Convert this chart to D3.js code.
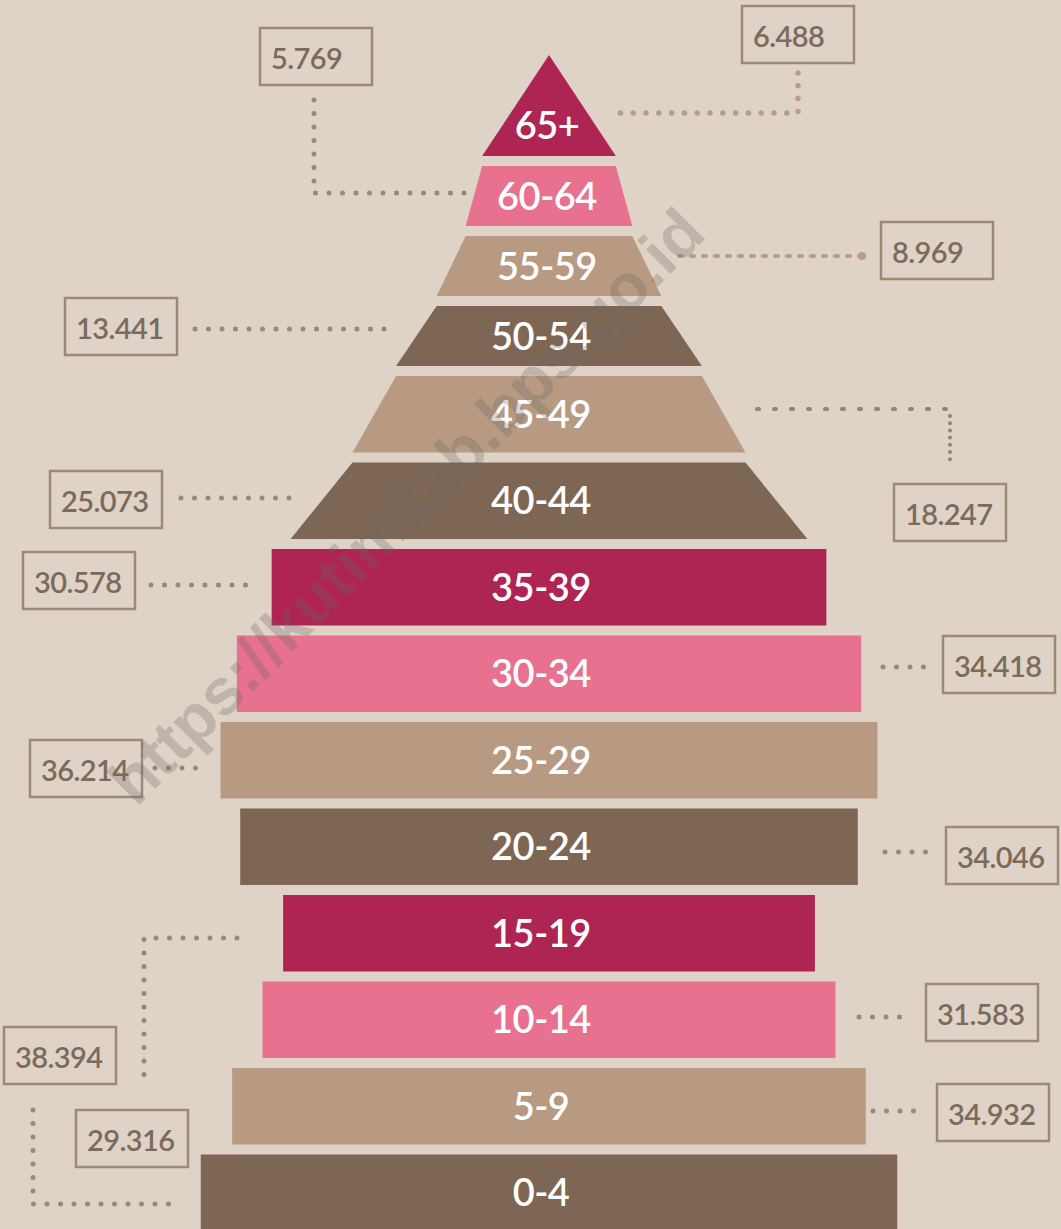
<!DOCTYPE html>
<html>
<head>
<meta charset="utf-8">
<script src="https://cdn.jsdelivr.net/npm/d3@7"></script>
<style>
  html, body { margin: 0; padding: 0; background: #dfd2c7; }
  svg { display: block; }
</style>
</head>
<body>
<script>
// Population pyramid infographic (thousands of people per age group)
const ages = ["0-4", "5-9", "10-14", "15-19", "20-24", "25-29", "30-34",
              "35-39", "40-44", "45-49", "50-54", "55-59", "60-64", "65+"];
const population = [38.394, 34.932, 31.583, 29.316, 34.046, 36.214, 34.418,
                    30.578, 25.073, 18.247, 13.441, 8.969, 5.769, 6.488];
const taperedGroups = ["40-44", "45-49", "50-54", "55-59", "60-64"];
const peakGroup = "65+";

const w = 1061, h = 1229;
const cx = 549;

const svg = d3.select("body")
              .append("svg")
              .attr("width", w)
              .attr("height", h)
              .style("background-color", "#dfd2c7");

const rows = ages.map((a, i) => ({age: a, value: population[i]})).reverse(); // top to bottom

// vertical layout: apex triangle, three short rows, then full rows
const rowH = (a) => a === peakGroup ? 101 : (["50-54", "55-59", "60-64"].includes(a) ? 60 : 76.5);
const gap = 10;
let yy = 55;
rows.forEach(r => { r.y0 = yy; r.y1 = yy + rowH(r.age); yy = r.y1 + gap; });

// half width of a bar from its value
const halfX = d3.scaleLinear().domain([0, 40]).range([0, 362.8]);
const shoulder = 31;

const color = d3.scaleOrdinal()
  .domain(ages)
  .range(["#7d6654", "#b79a81", "#e8718f", "#ae2553", "#7d6654", "#b79a81", "#e8718f",
          "#ae2553", "#7d6654", "#b79a81", "#7d6654", "#b79a81", "#e8718f", "#ae2553"]);

// outline points of each band
rows.forEach((r, i) => {
  if (r.age === peakGroup) {
    r.top = 0;
    r.bot = halfX(r.value) + 8;
  } else if (taperedGroups.includes(r.age)) {
    r.top = rows[i - 1].bot;
    r.bot = halfX(r.value) + shoulder;
  } else {
    r.top = r.bot = halfX(r.value);
  }
});

svg.selectAll("path.band")
   .data(rows)
   .enter()
   .append("path")
   .attr("class", "band")
   .attr("d", d => d3.line()([[cx - d.top, d.y0], [cx + d.top, d.y0], [cx + d.bot, d.y1], [cx - d.bot, d.y1]]) + "Z")
   .attr("fill", d => color(d.age));

svg.selectAll("text.age")
   .data(rows)
   .enter()
   .append("text")
   .attr("class", "age")
   .attr("x", d => d.y0 < 300 ? cx - 2 : cx - 8)
   .attr("y", d => (d.age === peakGroup ? d.y0 + 0.7 * (d.y1 - d.y0) : (d.y0 + d.y1) / 2) + 13.5)
   .attr("text-anchor", "middle")
   .attr("fill", "#ffffff")
   .style("font-family", "Lato, 'Open Sans', sans-serif")
   .style("font-weight", 600)
   .style("font-size", "38px")
   .style("letter-spacing", "-0.5px")
   .text(d => d.age);

// callout boxes with dotted leaders
const callouts = [
  {age: "65+",   x: 742, y: 6,    lead: [[798, 73], [798, 113], [612, 113]], kind: "dotLight"},
  {age: "60-64", x: 260, y: 28,   lead: [[314, 100], [314, 193], [465, 193]], kind: "dot"},
  {age: "55-59", x: 881, y: 222,  lead: [[862, 256], [675, 256]], kind: "dashLight"},
  {age: "50-54", x: 65,  y: 298,  lead: [[195, 329], [388, 329]], kind: "dot"},
  {age: "45-49", x: 894, y: 484,  lead: [[757, 409], [950, 409]], kind: "dash", lead2: [[950, 416], [950, 466]]},
  {age: "40-44", x: 50,  y: 471,  lead: [[181, 498], [292, 498]], kind: "dot"},
  {age: "35-39", x: 23,  y: 552,  lead: [[151, 585], [247, 585]], kind: "dot"},
  {age: "30-34", x: 943, y: 636,  lead: [[883, 667], [926, 667]], kind: "dot"},
  {age: "25-29", x: 30,  y: 740,  lead: [[155, 768], [196, 768]], kind: "dot"},
  {age: "20-24", x: 946, y: 827,  lead: [[885, 852], [928, 852]], kind: "dot"},
  {age: "0-4",   x: 4,   y: 1027, lead: [[237, 938], [144, 938], [144, 1084]], kind: "dot"},
  {age: "10-14", x: 926, y: 984,  lead: [[859, 1017], [901, 1017]], kind: "dot"},
  {age: "5-9",   x: 937, y: 1084, lead: [[873, 1111], [916, 1111]], kind: "dot"},
  {age: "15-19", x: 76,  y: 1110, lead: [[33, 1110], [33, 1204], [180, 1204]], kind: "dot"}
];
const valueOf = (a) => population[ages.indexOf(a)];
const fmt = d3.format(".3f");

const leadStyle = {
  dot:       {stroke: "#9a8a73", width: 5,   dash: "0 13.5"},
  dotLight:  {stroke: "#b59f87", width: 5.5, dash: "0 12.8"},
  dashLight: {stroke: "#b59f87", width: 4,   dash: "3 9"},
  dash:      {stroke: "#928470", width: 4,   dash: "2 15"}
};

const g = svg.append("g").attr("class", "callouts");
callouts.forEach(c => {
  const s = leadStyle[c.kind];
  g.append("path")
   .attr("d", d3.line()(c.lead))
   .attr("fill", "none")
   .attr("stroke", s.stroke)
   .attr("stroke-width", s.width)
   .attr("stroke-linecap", "round")
   .attr("stroke-dasharray", s.dash);
  if (c.lead2) {
    g.append("path")
     .attr("d", d3.line()(c.lead2))
     .attr("fill", "none")
     .attr("stroke", s.stroke)
     .attr("stroke-width", 4)
     .attr("stroke-linecap", "round")
     .attr("stroke-dasharray", "0 7.2");
  }
  if (c.kind === "dashLight") {
    g.append("circle").attr("cx", c.lead[0][0]).attr("cy", c.lead[0][1]).attr("r", 4).attr("fill", s.stroke);
  }
  g.append("rect")
   .attr("x", c.x).attr("y", c.y)
   .attr("width", 112).attr("height", 57)
   .attr("fill", "none")
   .attr("stroke", "#9b8b74")
   .attr("stroke-width", 2.5);
  g.append("text")
   .attr("x", c.x + 11)
   .attr("y", c.y + 41)
   .attr("fill", "#7b6b5b")
   .style("font-family", "Lato, 'Open Sans', sans-serif")
   .style("font-weight", 600)
   .style("font-size", "29px")
   .style("letter-spacing", "-0.6px")
   .text(fmt(valueOf(c.age)));
});

// watermark
svg.append("text")
   .attr("transform", "translate(410,510) rotate(-45)")
   .attr("text-anchor", "middle")
   .attr("dominant-baseline", "middle")
   .attr("fill", "rgba(105,105,105,0.28)")
   .style("font-family", "'Liberation Sans', Arial, sans-serif")
   .style("font-weight", 700)
   .style("font-size", "65px")
   .text("https://kutimkab.bps.go.id");
</script>
</body>
</html>
